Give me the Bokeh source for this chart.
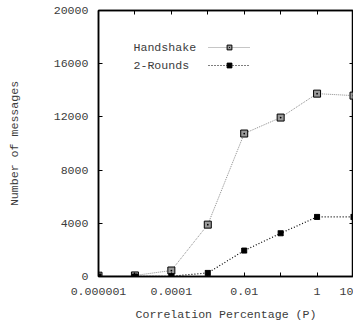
from bokeh.plotting import figure
from bokeh.models import (Range1d, FixedTicker, LogAxis, LinearAxis, Legend, LegendItem,
                          Label, CustomJSTickFormatter, ColumnDataSource)
from bokeh.core.properties import value
from bokeh.embed import file_html
from bokeh.resources import INLINE

# ---- data ----
x_values = [1e-6, 1e-5, 1e-4, 1e-3, 1e-2, 1e-1, 1, 10]
handshake = [60, 80, 450, 3900, 10750, 11950, 13750, 13600]
two_rounds = [0, 0, 20, 270, 1950, 3250, 4480, 4480]
series_names = ["Handshake", "2-Rounds"]
x_ticks = [1e-6, 1e-5, 1e-4, 1e-3, 1e-2, 1e-1, 1, 10]
x_tick_labels = ["0.000001", " ", "0.0001", " ", "0.01", " ", "1", "10"]
y_ticks = [0, 4000, 8000, 12000, 16000, 20000]
x_title = "Correlation Percentage (P)"
y_title = "Number of messages"

FONT = "Liberation Mono"
TXT = "#3c3c3c"
FS = "11.6px"

src = ColumnDataSource(dict(x=x_values, h=handshake, r=two_rounds))

p = figure(width=353, height=329, x_axis_type="log", output_backend="svg",
           toolbar_location=None, x_range=Range1d(1e-6, 10), y_range=Range1d(0, 20000),
           min_border_left=98, min_border_right=0, min_border_top=10, min_border_bottom=53)
p.background_fill_color = "white"
p.border_fill_color = "white"
p.outline_line_color = "black"
p.outline_line_width = 1.5
p.grid.visible = False

fmt = CustomJSTickFormatter(args=dict(tvals=x_ticks, tlabs=x_tick_labels), code="""
let best = 0, bd = Infinity;
for (let i = 0; i < tvals.length; i++) {
  const d = Math.abs(Math.log10(tvals[i]) - Math.log10(tick));
  if (d < bd) { bd = d; best = i; }
}
return tlabs[best];
""")

def style_axis(ax, show_labels):
    ax.axis_line_color = "black"
    ax.axis_line_width = 1.5
    ax.major_tick_in = 4
    ax.major_tick_out = 0
    ax.major_tick_line_color = "black"
    ax.minor_tick_line_color = None
    ax.major_label_text_font = FONT
    ax.major_label_text_color = TXT
    ax.axis_label_text_font = FONT
    ax.axis_label_text_color = TXT
    ax.axis_label_text_font_style = "normal"
    ax.axis_label_text_font_size = FS
    if show_labels:
        ax.major_label_text_font_size = FS
    else:
        ax.major_label_text_font_size = "1px"
        ax.major_label_text_alpha = 0
        ax.major_label_standoff = 0

xa = p.xaxis[0]
xa.ticker = FixedTicker(ticks=x_ticks)
xa.formatter = fmt
style_axis(xa, True)
xa.major_label_standoff = 8
xa.axis_label = x_title
xa.axis_label_standoff = 7

ya = p.yaxis[0]
ya.ticker = FixedTicker(ticks=y_ticks)
style_axis(ya, True)
ya.major_label_standoff = 10
ya.axis_label = y_title
ya.axis_label_standoff = 30

top = LogAxis(ticker=FixedTicker(ticks=x_ticks))
style_axis(top, False)
p.add_layout(top, "above")
right = LinearAxis(ticker=FixedTicker(ticks=y_ticks))
style_axis(right, False)
p.add_layout(right, "right")

l1 = p.line("x", "h", source=src, line_color="#8c8c8c", line_width=1, line_dash="1 1")
m1 = p.scatter("x", "h", source=src, marker="square_dot", size=7, fill_color="#9a9a9a",
               line_color="black", line_width=1)
l2 = p.line("x", "r", source=src, line_color="black", line_width=1.2, line_dash="1 2")
m2 = p.scatter("x", "r", source=src, marker="square_x", size=5, fill_color="black",
               line_color="black", line_width=1)

legend = Legend(items=[LegendItem(label=value(" "), renderers=[l1, m1]),
                       LegendItem(label=value(" "), renderers=[l2, m2])],
                location=(110, 205), glyph_width=42, glyph_height=12, spacing=6,
                padding=0, margin=0, label_standoff=0, label_width=1,
                label_text_font_size="1px",
                border_line_alpha=0, background_fill_alpha=0)
p.add_layout(legend)

for name, yy in zip(series_names, [229, 211]):
    p.add_layout(Label(x=35, y=yy, x_units="screen", y_units="screen", text=name,
                       text_font=FONT, text_font_size=FS, text_color=TXT,
                       text_baseline="middle"))

open("out.html", "w").write(file_html(p, INLINE))
